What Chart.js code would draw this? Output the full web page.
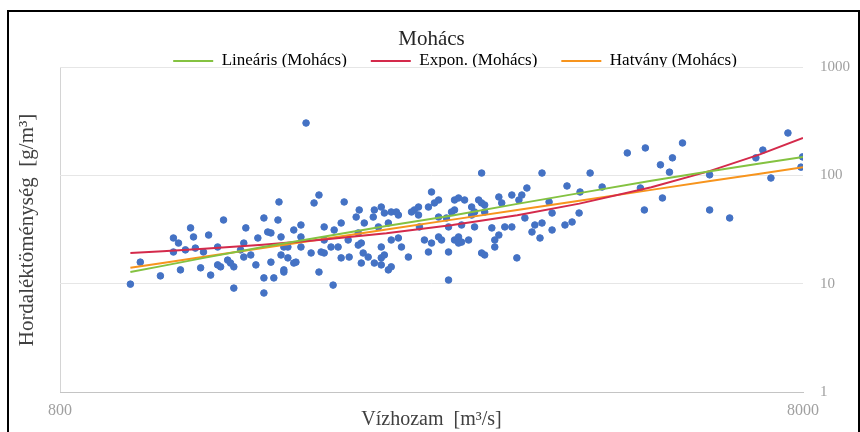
<!DOCTYPE html>
<html><head><meta charset="utf-8">
<script src="https://cdn.jsdelivr.net/npm/chart.js@4"></script>
<style>html,body{margin:0;padding:0;background:#fff;} canvas{display:block}</style>
</head><body>
<canvas id="c" width="860" height="432"></canvas>
<script>
// Vízhozam [m3/s]
const flowValues = [
  995,1026,1092,1137,1155,1199,1210,1268,1162,1137,
  1276,1304,1328,1345,1371,1371,1414,1414,1477,1505,
  1523,1572,1577,1505,1552,1505,1587,1601,1587,1248,
  1304,1316,1357,1445,1538,1601,1180,1237,
  1715,1785,1758,1930,2022,2003,2165,2233,2283,2112,
  2399,2530,2506,2586,2717,1688,1688,1814,1912,1621,
  1742,1814,1894,2035,2079,2035,2165,2233,2119,2283,
  2305,2355,2475,2506,2667,2717,1601,1651,1785,1865,
  2667,1912,1960,2610,2186,1954,2119,2054,1853,2717,
  2437,2586,2016,1688,1621,2650,
  4641,2955,3563,4136,3400,3850,4009,4293,2751,2928,
  3117,3245,3317,2865,2983,2692,3642,3676,3997,3911,
  3826,3563,3379,2891,3050,3175,2751,2751,3078,3078,
  3454,3541,3676,2983,3296,2865,3245,2777,
  7635,4908,5507,5143,5338,5289,7064,6913,7990,7950,
  7243,5990,4833,5175,4893,5990,6374,
  2553,2430,2586,2233,2165,1814,1651,2667,2803,3145,
  2838,3117,3485,3347,1217,1400,1468,1538,1423,
  1871,2146,2213,1797,2016,2047,2186,2165,1662,2213,
  2430,2378,2269,2891,2983,2955,2530,2777,2955
];
// Hordaléktöménység [g/m3]
const concValues = [
  9.9,15.8,11.8,26.4,23.7,32.7,27.0,28.1,13.4,19.6,
  12.0,14.9,38.7,16.5,14.3,9.1,23.7,17.6,26.4,40.4,
  30.0,38.7,56.8,11.3,11.3,8.2,18.4,12.8,27.0,19.6,
  21.8,14.3,15.5,18.4,29.4,21.8,20.5,14.0,
  304,65.8,55.6,56.8,47.9,41.2,51.0,45.9,43.0,41.2,
  47.9,70.2,51.0,59.2,59.2,34.8,27.0,33.4,36.3,21.8,
  19.2,19.2,21.8,23.7,17.6,15.5,17.3,14.3,15.5,26.4,
  21.8,17.6,25.3,19.6,19.6,25.3,13.4,15.5,12.8,9.7,
  10.8,17.3,17.6,25.3,44.9,25.3,47.9,36.3,21.8,47.9,
  33.4,27.0,29.4,21.8,17.3,40.4,
  161,105,105,105,76.4,79.8,70.2,78.0,61.8,59.2,
  63.1,65.8,59.2,51.0,53.2,45.9,56.8,44.9,44.9,37.1,
  34.8,36.3,40.4,33.4,32.7,33.4,27.0,23.7,25.3,21.8,
  30.0,26.4,31.3,18.4,17.3,43.0,33.4,34.8,
  246,179,199,125,145,107,171,145,148,119,
  94.5,101,76.4,61.8,47.9,47.9,40.4,
  55.6,43.0,41.2,25.3,21.8,25.3,31.3,33.4,59.2,55.6,
  25.3,28.1,34.8,65.8,21.3,20.5,14.9,15.8,32.7,
  31.3,33.4,36.3,19.6,22.7,19.2,18.4,14.9,15.8,13.4,
  51.0,45.9,45.9,45.9,45.9,55.6,23.7,24.2,19.2
];
// Trend lines
const trendFlow   = [995, 1100, 1250, 1500, 1800, 2200, 2700, 3300, 4000, 5000, 6000, 7000, 8000];
const linearTrend = [12.8, 14.6, 17.3, 21.8, 27.0, 34.0, 42.5, 54.5, 68.5, 89.0, 109.0, 128.5, 148];
const exponTrend  = [19.2, 19.9, 21.0, 22.9, 25.4, 29.2, 34.8, 42.9, 54.8, 77.7, 110, 156, 221];
const powerTrend  = [14.0, 15.5, 17.7, 21.3, 25.7, 31.6, 39.0, 47.9, 58.4, 73.4, 88.5, 103.6, 118.8];

const xTickValues = [800, 8000];
const yTickValues = [1, 10, 100, 1000];
const seriesNames = ['Mohács', 'Lineáris (Mohács)', 'Expon. (Mohács)', 'Hatvány (Mohács)'];
const chartTitle = 'Mohács';
const xTitle = 'Vízhozam  [m³/s]';
const yTitle = 'Hordaléktöménység  [g/m³]';

const serif = '"Liberation Serif", "Times New Roman", serif';
Chart.defaults.font.family = serif;

const toPts = (xs, ys) => xs.map((x, i) => ({x: x, y: ys[i]}));

const framePlugin = {
  id: 'frame',
  afterDraw(chart) {
    const ctx = chart.ctx;
    ctx.save();
    ctx.fillStyle = '#404040';
    ctx.font = '21px ' + serif;
    ctx.translate(27, 230);
    ctx.rotate(-Math.PI / 2);
    ctx.textAlign = 'center';
    ctx.textBaseline = 'middle';
    ctx.fillText(yTitle, 0, 0);
    ctx.restore();
    ctx.save();
    ctx.strokeStyle = '#000';
    ctx.lineWidth = 2;
    ctx.strokeRect(8, 11, 851, 430);
    ctx.restore();
  }
};

new Chart(document.getElementById('c'), {
  type: 'scatter',
  data: {
    datasets: [
      { label: seriesNames[0], data: toPts(flowValues, concValues),
        backgroundColor: '#4472C4', borderColor: '#4472C4',
        pointRadius: 3.3, pointBorderWidth: 1, pointHoverRadius: 3.3, order: 4 },
      { label: seriesNames[1], data: toPts(trendFlow, linearTrend), showLine: true,
        borderColor: '#84C241', backgroundColor: '#84C241', borderWidth: 2, pointRadius: 0, order: 1 },
      { label: seriesNames[2], data: toPts(trendFlow, exponTrend), showLine: true,
        borderColor: '#D42A4B', backgroundColor: '#D42A4B', borderWidth: 2, pointRadius: 0, order: 2 },
      { label: seriesNames[3], data: toPts(trendFlow, powerTrend), showLine: true,
        borderColor: '#F7941D', backgroundColor: '#F7941D', borderWidth: 2, pointRadius: 0, order: 3 }
    ]
  },
  options: {
    responsive: false,
    animation: false,
    devicePixelRatio: 1,
    layout: { padding: { top: 10, left: 60, right: 10, bottom: 0 } },
    plugins: {
      tooltip: { enabled: false },
      title: {
        display: true, text: chartTitle, fullSize: false,
        font: { size: 21, weight: 'normal', family: serif },
        color: '#262626',
        padding: { top: 17, bottom: -23.7 }
      },
      legend: {
        display: true, position: 'top', maxHeight: 38.5,
        labels: {
          font: { size: 17, family: serif },
          color: '#404040',
          boxWidth: 40, boxHeight: 2, padding: 24,
          generateLabels: (chart) => chart.data.datasets
            .map((ds, i) => ({ text: ds.label, fillStyle: ds.borderColor, strokeStyle: ds.borderColor,
                               lineWidth: 0, hidden: false, datasetIndex: i }))
            .filter(l => l.datasetIndex > 0)
        }
      }
    },
    scales: {
      x: {
        type: 'logarithmic', position: 'bottom', min: 800, max: 8000,
        afterBuildTicks: (s) => { s.ticks = xTickValues.map(v => ({ value: v })); },
        afterFit: (s) => { s.height = 40; },
        ticks: { autoSkip: false, maxRotation: 0, padding: 9, color: '#a0a0a0',
                 font: { size: 16, family: serif }, callback: (v) => String(v) },
        grid: { drawTicks: false, color: (ctx) => (ctx.tick && ctx.tick.value === 800) ? '#d4d4d4' : 'rgba(0,0,0,0)' },
        border: { display: true, color: '#c4c4c4', width: 1 },
        title: { display: true, text: xTitle, color: '#404040',
                 font: { size: 20, family: serif }, padding: { top: 0, bottom: 0 } }
      },
      y: {
        type: 'logarithmic', position: 'right', min: 1, max: 1000,
        afterBuildTicks: (s) => { s.ticks = yTickValues.map(v => ({ value: v })); },
        afterFit: (s) => { s.width = 47; },
        ticks: { padding: 17, color: '#a0a0a0', font: { size: 15, family: serif },
                 callback: (v) => String(v) },
        grid: { drawTicks: false, color: '#e6e6e6' },
        border: { display: false }
      }
    }
  },
  plugins: [framePlugin]
});
</script></body></html>
